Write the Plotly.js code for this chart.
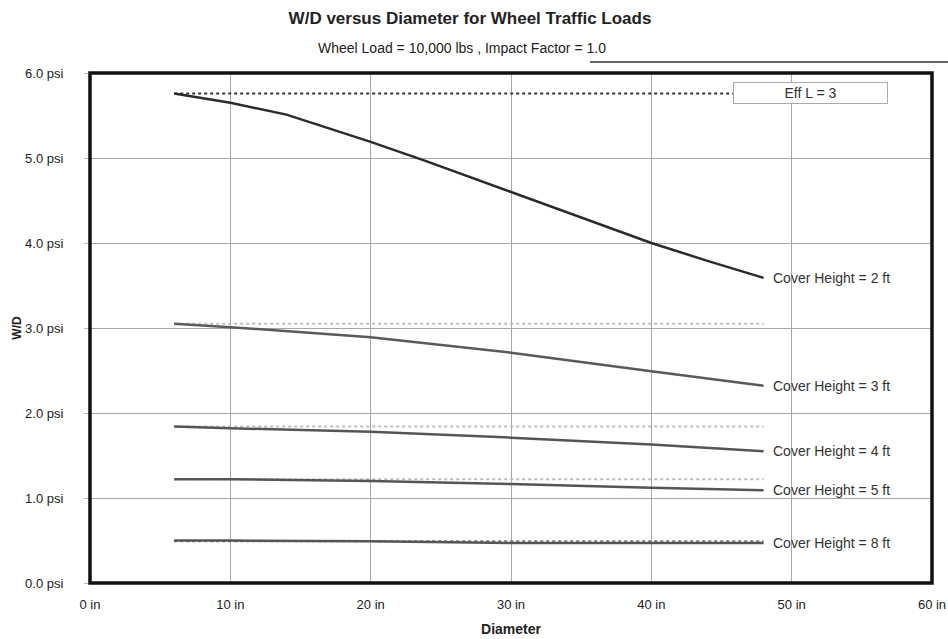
<!DOCTYPE html>
<html>
<head>
<meta charset="utf-8">
<script src="https://cdn.plot.ly/plotly-3.0.1.min.js"></script>
<style>html,body{margin:0;padding:0;background:#fff;}#chart{width:948px;height:639px;}</style>
</head>
<body>
<div id="chart"></div>
<script>
// Diameter (in)
const diam2 = [6, 10, 14, 20, 24, 30, 35, 40, 44, 48];
const wd2   = [5.76, 5.65, 5.51, 5.19, 4.96, 4.60, 4.30, 4.00, 3.79, 3.59];
const diamStd = [6, 10, 20, 30, 40, 48];
const wd3 = [3.05, 3.01, 2.89, 2.71, 2.49, 2.32];
const wd4 = [1.84, 1.82, 1.78, 1.71, 1.63, 1.55];
const wd5 = [1.22, 1.22, 1.20, 1.165, 1.12, 1.09];
const wd8 = [0.50, 0.50, 0.49, 0.47, 0.47, 0.47];
const dotX = [6, 48];
const dot2 = [5.76, 5.76];
const dot3 = [3.05, 3.05];
const dot4 = [1.84, 1.84];
const dot5 = [1.22, 1.22];
const dot8 = [0.49, 0.49];
const labels = ["Cover Height = 2 ft", "Cover Height = 3 ft", "Cover Height = 4 ft", "Cover Height = 5 ft", "Cover Height = 8 ft"];
const xTicks = [0, 10, 20, 30, 40, 50, 60];
const yTicks = [0, 1, 2, 3, 4, 5, 6];

const FONT = "Liberation Sans, Arial, sans-serif";
const dotted = (x, y, c) => ({x: x, y: y, mode: 'lines', line: {color: c, width: 2, dash: 'dot'}, hoverinfo: 'skip'});
const solid = (x, y, c) => ({x: x, y: y, mode: 'lines', line: {color: c, width: 2.5}, hoverinfo: 'skip'});

const traces = [
  dotted(dotX, dot2, '#333'),
  dotted(dotX, dot3, '#bdbdbd'),
  dotted(dotX, dot4, '#bdbdbd'),
  dotted(dotX, dot5, '#bdbdbd'),
  dotted(dotX, dot8, '#777'),
  solid(diam2, wd2, '#2b2b2b'),
  solid(diamStd, wd3, '#5a5a5a'),
  solid(diamStd, wd4, '#555'),
  solid(diamStd, wd5, '#555'),
  solid(diamStd, wd8, '#555')
];

const ends = [wd2[wd2.length-1], wd3[wd3.length-1], wd4[wd4.length-1], wd5[wd5.length-1], wd8[wd8.length-1]];
const annotations = labels.map((t, i) => ({
  x: diam2[diam2.length-1] + 0.5, y: ends[i], xref: 'x', yref: 'y', text: t,
  showarrow: false, xanchor: 'left', yanchor: 'middle',
  font: {family: FONT, size: 14, color: '#333'}
}));
annotations.push({
  x: (810 - 90) / 842, y: (583 - 93.5) / 510, xref: 'paper', yref: 'paper', text: 'Eff L = 3', showarrow: false,
  xanchor: 'center', yanchor: 'middle', width: 151, height: 18,
  bordercolor: '#aaa', borderwidth: 1, bgcolor: '#fff',
  font: {family: FONT, size: 14, color: '#333'}
});
annotations.push({
  x: (462 - 90) / 842, y: (583 - 48) / 510, xref: 'paper', yref: 'paper',
  xanchor: 'center', yanchor: 'middle',
  text: 'Wheel Load = 10,000 lbs , Impact Factor = 1.0',
  showarrow: false, font: {family: FONT, size: 14, color: '#222'}
});

const layout = {
  width: 948, height: 639,
  margin: {l: 90, r: 16, t: 73, b: 56},
  paper_bgcolor: '#fff', plot_bgcolor: '#fff',
  showlegend: false,
  font: {family: FONT, size: 12, color: '#222'},
  title: {text: '<b>W/D versus Diameter for Wheel Traffic Loads</b>', x: (470/948), xref: 'container', xanchor: 'center', y: 1 - 18/639, yref: 'container', yanchor: 'middle',
          font: {family: FONT, size: 17, color: '#222'}},
  xaxis: {
    range: [0, 60], tickvals: xTicks, ticktext: xTicks.map(v => v + ' in'),
    showgrid: true, gridcolor: '#a8a8a8', gridwidth: 1, zeroline: false,
    showline: false, ticks: '', ticklabelstandoff: 12,
    title: {text: '<b>Diameter</b>', font: {family: FONT, size: 14, color: '#222'}, standoff: 13},
    tickfont: {family: FONT, size: 13, color: '#222'}
  },
  yaxis: {
    range: [0, 6], tickvals: yTicks, ticktext: yTicks.map(v => v.toFixed(1) + ' psi'),
    showgrid: true, gridcolor: '#a8a8a8', gridwidth: 1, zeroline: false,
    showline: false, ticks: 'outside', ticklen: 5, tickcolor: '#bbb', ticklabelstandoff: 18,
    title: {text: '<b>W/D</b>', font: {family: FONT, size: 12, color: '#222'}, standoff: 0},
    tickfont: {family: FONT, size: 13, color: '#222'}
  },
  shapes: [
    {type: 'rect', xref: 'paper', yref: 'paper', x0: 0, x1: 1, y0: 0, y1: 1, line: {color: '#111', width: 3.5}},
    {type: 'line', xref: 'paper', yref: 'paper', x0: (590-90)/842, x1: (948-90)/842, y0: (583-62)/510, y1: (583-62)/510, line: {color: '#333', width: 1.5}}
  ],
  annotations: annotations
};

Plotly.newPlot('chart', traces, layout, {staticPlot: true, displayModeBar: false});
</script>
</body>
</html>
